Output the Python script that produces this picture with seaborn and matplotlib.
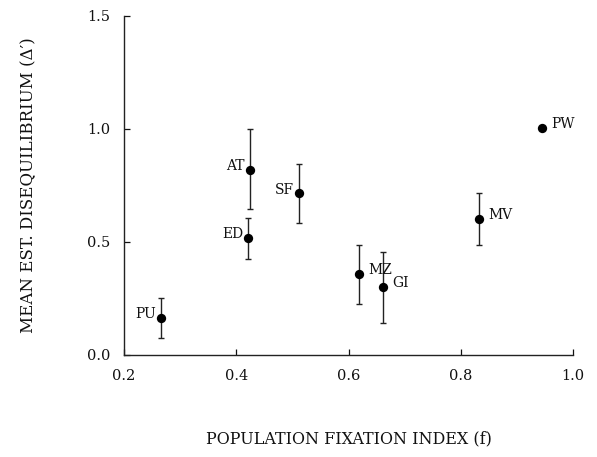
import matplotlib
matplotlib.use("Agg")
import matplotlib.pyplot as plt
import seaborn as sns
import pandas as pd

populations = ["PU", "ED", "AT", "SF", "MZ", "GI", "MV", "PW"]
fixation_index = [0.266, 0.421, 0.424, 0.512, 0.619, 0.661, 0.833, 0.945]
disequilibrium = [0.164, 0.519, 0.820, 0.715, 0.358, 0.300, 0.602, 1.003]
err_upper = [0.252, 0.607, 0.998, 0.845, 0.487, 0.457, 0.715, 1.003]
err_lower = [0.075, 0.425, 0.645, 0.585, 0.226, 0.143, 0.487, 1.003]
label_side = ["left", "left", "left", "left", "right", "right", "right", "right"]

x_ticks = [0.2, 0.4, 0.6, 0.8, 1.0]
y_ticks = [0.0, 0.5, 1.0, 1.5]

df = pd.DataFrame({"f": fixation_index, "d": disequilibrium,
                   "hi": err_upper, "lo": err_lower, "pop": populations,
                   "side": label_side})

sns.set_theme(style="ticks")
plt.rcParams["font.family"] = ["DejaVu Serif"]

fig = plt.figure(figsize=(5.97, 4.57), dpi=100)
ax = fig.add_axes([0.2077, 0.2232, 0.7523, 0.7418])

yerr = [df["d"] - df["lo"], df["hi"] - df["d"]]
ax.errorbar(df["f"], df["d"], yerr=yerr, fmt="none", ecolor="#222222",
            elinewidth=1.0, capsize=2, capthick=1.0, zorder=2)
sns.scatterplot(data=df, x="f", y="d", ax=ax, color="black", s=45,
                edgecolor="black", linewidth=0, zorder=3, legend=False)

for _, r in df.iterrows():
    if r["side"] == "left":
        ax.annotate(r["pop"], (r["f"], r["d"]), xytext=(-3.5, 2.5),
                    textcoords="offset points", ha="right", va="center",
                    fontsize=10, color="#111111")
    else:
        ax.annotate(r["pop"], (r["f"], r["d"]), xytext=(6.5, 3),
                    textcoords="offset points", ha="left", va="center",
                    fontsize=10, color="#111111")

ax.set_xlim(0.2, 1.0)
ax.set_ylim(0.0, 1.5)
ax.set_xticks(x_ticks)
ax.set_yticks(y_ticks)
ax.set_xticklabels([f"{t:.1f}" for t in x_ticks])
ax.set_yticklabels([f"{t:.1f}" for t in y_ticks])
ax.tick_params(direction="in", length=4, width=0.9, colors="#111111",
               labelsize=10.5, pad=10)
for s in ["top", "right"]:
    ax.spines[s].set_visible(False)
for s in ["left", "bottom"]:
    ax.spines[s].set_color("#222222")
    ax.spines[s].set_linewidth(1.0)

ax.set_xlabel("POPULATION FIXATION INDEX (f)", fontsize=11.5, labelpad=34,
              color="#111111")
ax.set_ylabel("MEAN EST. DISEQUILIBRIUM (Δ′)", fontsize=12, labelpad=36,
              color="#111111")

fig.savefig("out.png", dpi=100, facecolor="white")
